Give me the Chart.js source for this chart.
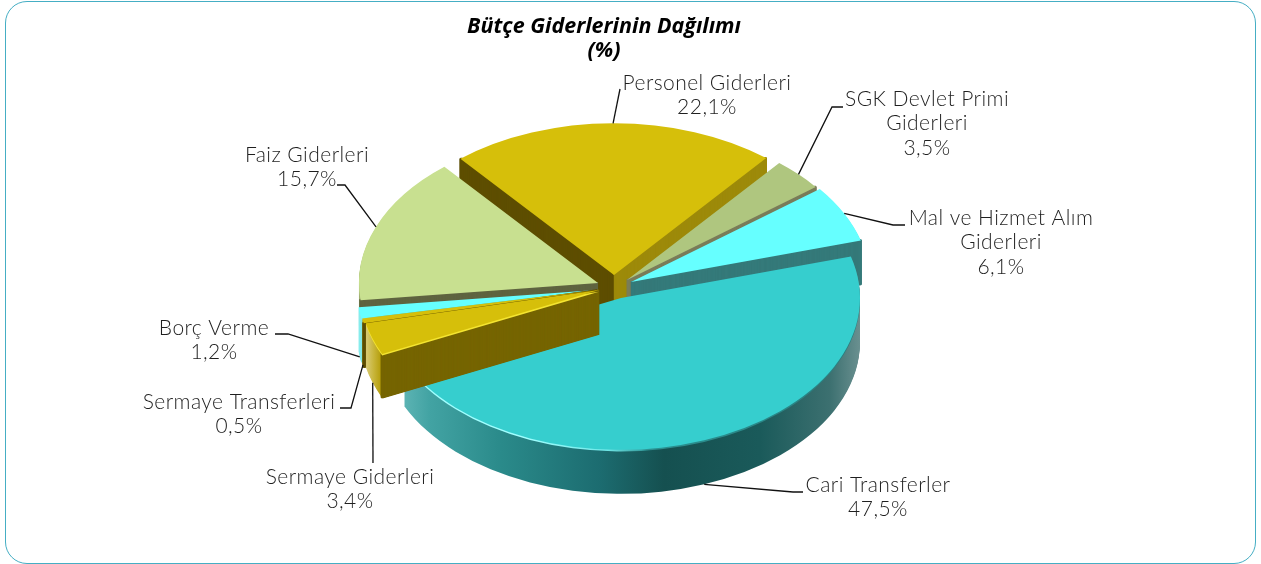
<!DOCTYPE html>
<html lang="tr">
<head>
<meta charset="utf-8">
<title>Bütçe Giderlerinin Dağılımı</title>
<style>
html,body{margin:0;padding:0;background:#fff;width:1261px;height:564px;overflow:hidden}
#frame{position:absolute;left:5px;top:1px;width:1249px;height:561px;border:1.5px solid #45aec4;border-radius:22px;box-sizing:content-box}
canvas{position:absolute;left:0;top:0}
</style>
<script src="https://cdn.jsdelivr.net/npm/chart.js@4/dist/chart.umd.js"></script>
</head>
<body>
<div id="frame"></div>
<canvas id="c" width="1261" height="564"></canvas>
<script>
const titleLines = ['Bütçe Giderlerinin Dağılımı', '(%)'];
const categories = ['Personel Giderleri', 'SGK Devlet Primi Giderleri', 'Mal ve Hizmet Alım Giderleri', 'Cari Transferler', 'Sermaye Giderleri', 'Sermaye Transferleri', 'Borç Verme', 'Faiz Giderleri'];
const values = [22.1, 3.5, 6.1, 47.5, 3.4, 0.5, 1.2, 15.7];
const topColors = ['#d6bf0a', '#afc67f', '#66ffff', '#36cece', '#d6bf0a', '#d6bf0a', '#66ffff', '#c8e090'];

const FONT = 'Lato, sans-serif';
const RADIUS = 239, SQUASH = 0.635, DEPTH = 44, SLIVER = 0.006;
const drawOrder = [0, 1, 7, 2, 3, 6, 5, 4];

// per-slice explosion, side-wall colours and rim shading
const sliceStyle = [
  {dx: 10, dy: -15, startWall: '#5e4e00', endWall: '#9d8a0a', rim: {from: -1, to: 1, stops: [[0, '#9d8a0a'], [1, '#9d8a0a']]}},
  {dx: 23, dy: -10, endWall: '#7a7d5a', rim: {from: -1, to: 1, stops: [[0, '#7a7d5a'], [1, '#7a7d5a']]}},
  {dx: 27, dy: -8, endWall: '#357a7a', rim: {from: -1, to: 1, stops: [[0, '#357a7a'], [1, '#357a7a']]}},
  {dx: 17, dy: 8, bevel: {from: -1, to: 1, stops: [[0, '#a0ffff'], [0.3, '#a0ffff'], [0.47, '#70e8e8'], [0.56, '#2a9090'], [1, '#2a7f7f']]},
    rim: {from: -1, to: 1, stops: [[0.044, '#5db4b4'], [0.1, '#42a3a3'], [0.25, '#2a8a8a'], [0.456, '#1c6c70'], [0.59, '#155050'], [0.79, '#1a5a5a'], [0.937, '#3c7070'], [1, '#6a9090']]}},
  {dx: -5, dy: 0, startWall: '#766500', bevel: {from: -1, to: -0.85, stops: [[0, '#f4e430'], [1, '#f4e430']]},
    rim: {from: -0.98, to: -0.905, stops: [[0, '#dccf80'], [0.5, '#c8b53a'], [1, '#b09800']]}},
  {dx: -7, dy: 0, startWall: '#5e4e00', rim: {from: -1, to: 1, stops: [[0, '#b8a510'], [1, '#b8a510']]}},
  {dx: -8, dy: 0, rim: {from: -1, to: -0.9, stops: [[0, '#8ff0f0'], [1, '#46c8c8']]}},
  {dx: -6, dy: -7, startWall: '#5f6440', rim: {from: -1, to: 1, stops: [[0, '#a0b070'], [1, '#a0b070']]}}
];

// text centres and leader routes
const labelLayout = [
  {x: 707, y: 83, route: [[620, 89]]},
  {x: 927, y: 99, route: [[832, 107], [843, 107]]},
  {x: 1001, y: 218, route: [[893, 225], [905, 225]]},
  {x: 878, y: 485, drop: true, route: [[793, 492], [803, 492]]},
  {x: 350, y: 477, drop: true, route: [[373, 463]]},
  {x: 239, y: 402, drop: true, route: [[351, 408], [340, 408]]},
  {x: 214, y: 328, drop: true, route: [[288, 334], [275, 334]]},
  {x: 307, y: 155, route: [[345, 185], [337, 185]]}
];
const labelWraps = [
  ['Personel Giderleri'], ['SGK Devlet Primi', 'Giderleri'], ['Mal ve Hizmet Alım', 'Giderleri'], ['Cari Transferler'],
  ['Sermaye Giderleri'], ['Sermaye Transferleri'], ['Borç Verme'], ['Faiz Giderleri']
];
const LINE_H = 24.5;

function gradientFor(ctx, el, spec) {
  const g = ctx.createLinearGradient(el.x + spec.from * RADIUS, 0, el.x + spec.to * RADIUS, 0);
  spec.stops.forEach(s => g.addColorStop(s[0], s[1]));
  return g;
}
function ghost(el, fill, start, end) {
  const a = Object.create(el);
  const isWall = start !== undefined;
  a.options = {backgroundColor: fill, borderColor: isWall ? fill : 'transparent', borderWidth: isWall ? 2.2 : 0, borderRadius: 0, offset: 0, spacing: 0, borderAlign: 'center', circular: true, borderJoinStyle: 'bevel', borderDash: [], borderDashOffset: 0};
  if (isWall) { a.startAngle = start; a.endAngle = end; a.circumference = end - start; }
  return a;
}
function paint(ctx, el, st, drop, fill, start, end) {
  ctx.save();
  ctx.translate(el.x + st.dx, el.y + st.dy + drop);
  ctx.scale(1, SQUASH);
  ctx.translate(-el.x, -el.y);
  ghost(el, fill, start, end).draw(ctx);
  ctx.restore();
}

const solidPie = {
  id: 'solidPie',
  beforeDatasetDraw(chart, args) {
    const ctx = chart.ctx;
    const arcs = chart.getDatasetMeta(args.index).data;
    drawOrder.forEach(i => {
      const el = arcs[i], st = sliceStyle[i];
      const rim = gradientFor(ctx, el, st.rim);
      for (let d = DEPTH; d >= 1; d -= 1) paint(ctx, el, st, d, rim);
      for (let d = DEPTH; d >= 0; d -= 0.5) {
        if (st.startWall) paint(ctx, el, st, d, st.startWall, el.startAngle, el.startAngle + SLIVER);
        if (st.endWall) paint(ctx, el, st, d, st.endWall, el.endAngle - SLIVER, el.endAngle);
      }
      if (st.bevel) paint(ctx, el, st, 1.6, gradientFor(ctx, el, st.bevel));
      paint(ctx, el, st, 0, el.options.backgroundColor);
    });
    return false;
  },
  afterDatasetsDraw(chart) {
    const ctx = chart.ctx;
    const arcs = chart.getDatasetMeta(0).data;
    ctx.save();
    ctx.strokeStyle = '#111';
    ctx.lineWidth = 1.3;
    arcs.forEach((el, i) => {
      const st = sliceStyle[i], lay = labelLayout[i];
      const mid = (el.startAngle + el.endAngle) / 2;
      const px = el.x + st.dx + Math.cos(mid) * RADIUS;
      const py = el.y + st.dy + Math.sin(mid) * RADIUS * SQUASH + (lay.drop ? DEPTH : 0);
      ctx.beginPath();
      ctx.moveTo(px, py);
      lay.route.forEach(p => ctx.lineTo(p[0], p[1]));
      ctx.stroke();
    });
    ctx.fillStyle = '#1f1f1f';
    ctx.font = '300 21px ' + FONT;
    ctx.letterSpacing = '0.45px';
    ctx.textAlign = 'center';
    ctx.textBaseline = 'middle';
    categories.forEach((c, i) => {
      const lay = labelLayout[i];
      const lines = labelWraps[i].concat(values[i].toFixed(1).replace('.', ',') + '%');
      lines.forEach((t, n) => ctx.fillText(t, lay.x, lay.y + n * LINE_H));
    });
    ctx.restore();
  }
};

new Chart(document.getElementById('c'), {
  type: 'pie',
  data: {
    labels: categories,
    datasets: [{data: values, backgroundColor: topColors, borderWidth: 0, radius: RADIUS}]
  },
  options: {
    responsive: false,
    animation: false,
    rotation: -40,
    radius: RADIUS,
    layout: {padding: {left: 0, right: 53, top: 0, bottom: 47}},
    plugins: {
      legend: {display: false},
      tooltip: {enabled: false},
      title: {display: true, fullSize: false, text: titleLines, color: '#000',
        font: {family: '"Open Sans", sans-serif', size: 21.5, weight: 'bold', style: 'italic', lineHeight: 1.13},
        padding: {top: 14.5, bottom: 0}}
    }
  },
  plugins: [solidPie]
});
</script>
</body>
</html>
